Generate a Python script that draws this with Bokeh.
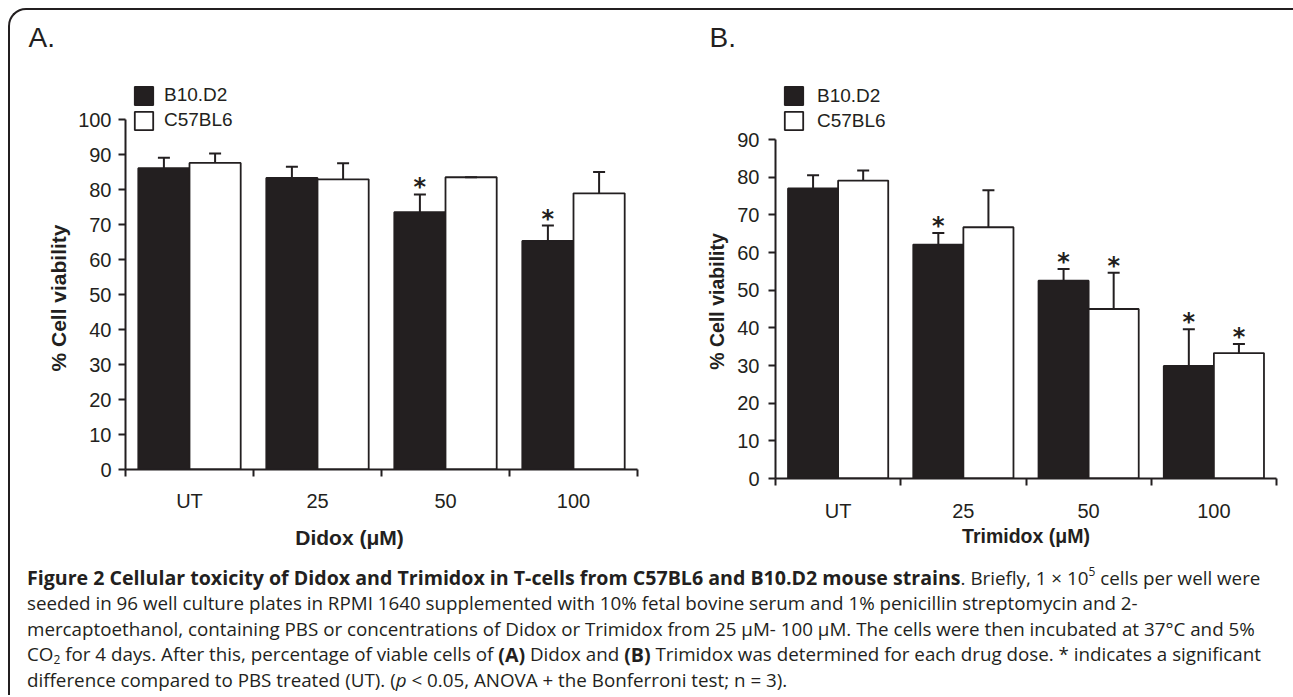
from bokeh.plotting import figure
from bokeh.models import (ColumnDataSource, Range1d, FixedTicker, Legend, LegendItem, LinearAxis,
                          CustomJS, CustomJSTickFormatter, Row, Column)
from bokeh.transform import dodge
from bokeh.core.properties import value, field
from bokeh.document import Document
from bokeh.events import DocumentReady
from bokeh.embed import file_html
from bokeh.resources import INLINE

# ---------------- data ----------------
categories = ["UT", "25", "50", "100"]
series_names = ["B10.D2", "C57BL6"]

didox_b10 = [86.1, 83.3, 73.5, 65.3]
didox_b10_err = [3.0, 3.2, 5.1, 4.4]
didox_b10_sig = [False, False, True, True]
didox_c57 = [87.6, 82.9, 83.5, 78.9]
didox_c57_err = [2.7, 4.6, 0.0, 6.1]
didox_c57_sig = [False, False, False, False]

trimidox_b10 = [77.0, 62.1, 52.5, 29.9]
trimidox_b10_err = [3.5, 3.1, 3.1, 9.7]
trimidox_b10_sig = [False, True, True, True]
trimidox_c57 = [79.1, 66.7, 45.0, 33.3]
trimidox_c57_err = [2.7, 9.8, 9.6, 2.4]
trimidox_c57_sig = [False, False, True, True]

y_ticks_a = list(range(0, 101, 10))
y_ticks_b = list(range(0, 91, 10))

panel_letters = ["A.", "B."]
x_titles = ["Didox (\u03bcM)", "Trimidox (\u03bcM)"]
y_title = "% Cell viability"

caption_lines = [
    [("Figure 2 Cellular toxicity of Didox and Trimidox in T-cells from C57BL6 and B10.D2 mouse strains", "bold", ""),
     (". Briefly, 1 \u00d7 10", "normal", ""), ("5", "normal", "sup"), (" cells per well were", "normal", "")],
    [("seeded in 96 well culture plates in RPMI 1640 supplemented with 10% fetal bovine serum and 1% penicillin streptomycin and 2-", "normal", "")],
    [("mercaptoethanol, containing PBS or concentrations of Didox or Trimidox from 25 \u00b5M- 100 \u00b5M. The cells were then incubated at 37\u00b0C and 5%", "normal", "")],
    [("CO", "normal", ""), ("2", "normal", "sub"), (" for 4 days. After this, percentage of viable cells of ", "normal", ""),
     ("(A)", "bold", ""), (" Didox and ", "normal", ""), ("(B)", "bold", ""),
     (" Trimidox was determined for each drug dose. * indicates a significant", "normal", "")],
    [("difference compared to PBS treated (UT). (", "normal", ""), ("p", "italic", ""),
     (" < 0.05, ANOVA + the Bonferroni test; n = 3).", "normal", "")],
]

DARK = "#231f20"
SANS = "Liberation Sans"


def title_axis(ticks, text, size, standoff, vertical=False):
    ax = LinearAxis(ticker=FixedTicker(ticks=ticks, minor_ticks=[]),
                    formatter=CustomJSTickFormatter(args=dict(t=text), code="return t;"))
    ax.axis_line_color = None
    ax.major_tick_line_color = None
    ax.minor_tick_line_color = None
    ax.major_tick_in = 0
    ax.major_tick_out = 0
    ax.minor_tick_in = 0
    ax.minor_tick_out = 0
    ax.major_label_text_font = SANS
    ax.major_label_text_font_style = "bold"
    ax.major_label_text_font_size = size
    ax.major_label_text_color = DARK
    ax.major_label_standoff = standoff
    if vertical:
        ax.major_label_orientation = "vertical"
    return ax


def make_chart(xtitle, vb, eb, sb, vc, ec, sc, yticks, *, width, height, mbl, mbr, mbb,
               ytop, xtitle_at, ytitle_at, leg_loc, leg_standoff, title_size,
               xlab_standoff, xtitle_standoff, ylab_standoff, ytitle_standoff):
    n = len(categories)
    ymax = yticks[-1]
    p = figure(width=width, height=height, x_range=Range1d(0, n), y_range=Range1d(0, ytop),
               output_backend="svg", toolbar_location=None, tools="",
               min_border_left=mbl, min_border_right=mbr, min_border_top=0, min_border_bottom=mbb)
    p.xgrid.visible = False
    p.ygrid.visible = False
    p.outline_line_color = None
    p.background_fill_color = None
    p.border_fill_color = None

    centers = [i + 0.5 for i in range(n)]
    src = ColumnDataSource(dict(
        xc=centers,
        b=vb, bt=[v + e for v, e in zip(vb, eb)],
        c=vc, ct=[v + e for v, e in zip(vc, ec)],
    ))
    rb = p.vbar(x=dodge("xc", -0.2), top="b", bottom=0, width=0.4, source=src,
                fill_color=DARK, line_color=DARK, line_width=1.8)
    rc = p.vbar(x=dodge("xc", 0.2), top="c", bottom=0, width=0.4, source=src,
                fill_color="white", line_color=DARK, line_width=1.8)
    for off, v, t in [(-0.2, "b", "bt"), (0.2, "c", "ct")]:
        p.segment(x0=dodge("xc", off), y0=v, x1=dodge("xc", off), y1=t, source=src,
                  line_color=DARK, line_width=2)
        p.scatter(x=dodge("xc", off), y=t, marker="dash", size=12, source=src,
                  line_color=DARK, line_width=2)

    sx = [c - 0.2 for c, s in zip(centers, sb) if s] + [c + 0.2 for c, s in zip(centers, sc) if s]
    sy = [v + e for v, e, s in zip(vb, eb, sb) if s] + [v + e for v, e, s in zip(vc, ec, sc) if s]
    p.text(x=sx, y=sy, text=["*"] * len(sx), text_font=value("DejaVu Sans"), text_font_style="bold",
           text_font_size="24px", text_align="center", text_baseline="middle",
           y_offset=-7, text_color=DARK)

    xa = p.xaxis[0]
    xa.ticker = FixedTicker(ticks=centers, minor_ticks=list(range(n + 1)))
    xa.formatter = CustomJSTickFormatter(args=dict(labels=categories),
                                         code="return labels[Math.floor(tick)];")
    xa.major_tick_line_color = None
    xa.major_tick_out = 0
    xa.major_tick_in = 0
    xa.minor_tick_line_color = DARK
    xa.minor_tick_line_width = 2
    xa.minor_tick_out = 7
    xa.minor_tick_in = 0
    xa.axis_line_color = DARK
    xa.axis_line_width = 2
    xa.major_label_text_font = SANS
    xa.major_label_text_font_size = "20px"
    xa.major_label_text_color = DARK
    xa.major_label_standoff = xlab_standoff

    ya = p.yaxis[0]
    ya.bounds = (0, ymax)
    ya.ticker = FixedTicker(ticks=yticks, minor_ticks=[])
    ya.major_tick_line_color = DARK
    ya.major_tick_line_width = 2
    ya.major_tick_out = 7
    ya.major_tick_in = 0
    ya.minor_tick_line_color = None
    ya.axis_line_color = DARK
    ya.axis_line_width = 2
    ya.major_label_text_font = SANS
    ya.major_label_text_font_size = "20px"
    ya.major_label_text_color = DARK
    ya.major_label_standoff = ylab_standoff

    p.add_layout(title_axis([xtitle_at], xtitle, title_size, xtitle_standoff), "below")
    p.add_layout(title_axis([ytitle_at], y_title, title_size, ytitle_standoff, vertical=True), "left")

    leg = Legend(items=[LegendItem(label=series_names[0], renderers=[rb]),
                        LegendItem(label=series_names[1], renderers=[rc])],
                 location=leg_loc, orientation="vertical", glyph_width=23, glyph_height=23,
                 label_standoff=leg_standoff, spacing=2, padding=0, margin=0,
                 border_line_color=None, background_fill_alpha=0,
                 label_text_font=SANS, label_text_font_size="19px", label_text_color=DARK,
                 label_height=23)
    p.add_layout(leg)
    return p


pA = make_chart(x_titles[0], didox_b10, didox_b10_err, didox_b10_sig,
                didox_c57, didox_c57_err, didox_c57_sig, y_ticks_a,
                width=650, height=488, mbl=115, mbr=23, mbb=91,
                ytop=113.43, xtitle_at=1.75, ytitle_at=49, leg_loc=(7, 337.5), leg_standoff=9,
                title_size="21px", xlab_standoff=13, xtitle_standoff=11,
                ylab_standoff=7, ytitle_standoff=5)
pB = make_chart(x_titles[1], trimidox_b10, trimidox_b10_err, trimidox_b10_sig,
                trimidox_c57, trimidox_c57_err, trimidox_c57_sig, y_ticks_b,
                width=633, height=488, mbl=115, mbr=17, mbb=82,
                ytop=107.79, xtitle_at=2.0, ytitle_at=47, leg_loc=(7, 345.7), leg_standoff=12,
                title_size="19.5px", xlab_standoff=14, xtitle_standoff=0,
                ylab_standoff=9, ytitle_standoff=6)

# ---------------- panel letters strip ----------------
STRIP_W, STRIP_H = 1283, 62
strip = figure(width=STRIP_W, height=STRIP_H, x_range=Range1d(0, STRIP_W), y_range=Range1d(STRIP_H, 0),
               output_backend="svg", toolbar_location=None, tools="", min_border=0,
               x_axis_location=None, y_axis_location=None)
strip.grid.visible = False
strip.outline_line_color = None
strip.background_fill_color = None
strip.border_fill_color = None
strip.text(x=[18, 699], y=[27, 27], text=panel_letters, text_font=value(SANS), text_font_size="28px",
           text_color=DARK, text_baseline="middle", text_align="left")

# ---------------- caption ----------------
CAP_W, CAP_H = 1283, 135
CAP_X0 = 16.5
CAP_Y0, CAP_DY = 17, 25.5
SIZES = {"normal": 18.8, "italic": 18.8, "bold": 19.6}
SMALL_SIZE = 12

_w = {}
for chars, w in [("abdgpqhnu", 0.60), ("ceksvxyz", 0.50), ("o", 0.60), ("m", 0.93), ("w", 0.78),
                 ("fr", 0.37), ("t", 0.35), ("ijl", 0.25), ("ABCDGHKNOPQRUVXYZ", 0.66),
                 ("EFLST", 0.55), ("IJ", 0.27), ("MW", 0.90), ("0123456789=+<\u00d7", 0.572),
                 (" ", 0.26), (".,:;", 0.25), ("()", 0.29), ("-", 0.32), ("%", 0.83),
                 ("*", 0.54), ("\u00b0", 0.42), ("\u00b5", 0.62)]:
    for ch in chars:
        _w[ch] = w


def est_width(s, size, style):
    f = 1.06 if "bold" in style else 1.0
    return sum(_w.get(ch, 0.55) for ch in s) * size * f


cx, cy, ct, cst, csz, cln, clead = [], [], [], [], [], [], []
for li, segs in enumerate(caption_lines):
    x = CAP_X0
    ybase = CAP_Y0 + li * CAP_DY
    for text, style, pos in segs:
        size = SMALL_SIZE if pos else SIZES[style]
        dy = -6 if pos == "sup" else (5 if pos == "sub" else 0)
        stripped = text.lstrip(" ")
        lead = len(text) - len(stripped)
        x += est_width(" " * lead, size, style)
        cx.append(x)
        cy.append(ybase + dy)
        ct.append(stripped)
        cst.append(style)
        csz.append(f"{size}px")
        cln.append(li)
        clead.append(lead)
        x += est_width(stripped, size, style)

cap_src = ColumnDataSource(dict(x=cx, y=cy, text=ct, style=cst, size=csz, line=cln, lead=clead))
cap = figure(width=CAP_W, height=CAP_H, x_range=Range1d(0, CAP_W), y_range=Range1d(CAP_H, 0),
             output_backend="svg", toolbar_location=None, tools="", min_border=0,
             x_axis_location=None, y_axis_location=None)
cap.grid.visible = False
cap.outline_line_color = None
cap.background_fill_color = None
cap.border_fill_color = None
cap.text(x="x", y="y", text="text", source=cap_src, text_font=value("Open Sans"),
         text_font_style=field("style"), text_font_size=field("size"),
         text_color=DARK, text_align="left", text_baseline="middle")

charts = Row(children=[Column(children=[pA]), Column(children=[pB])])
layout = Column(children=[strip, charts, cap],
                styles={"margin-left": "8px", "margin-top": "8px",
                        "border-left": f"2px solid {DARK}", "border-top": f"2px solid {DARK}",
                        "border-top-left-radius": "18px"})

doc = Document()
doc.add_root(layout)
doc.js_on_event(DocumentReady, CustomJS(args=dict(src=cap_src, x0=CAP_X0), code="""
const d = src.data;
const get = (k) => (d instanceof Map ? d.get(k) : d[k]);
const texts = get("text"), styles = get("style"), sizes = get("size"), lines = get("line"), leads = get("lead");
const xs = get("x");
const ctx = document.createElement("canvas").getContext("2d");
let cur = null, x = 0;
for (let i = 0; i < texts.length; i++) {
  if (lines[i] !== cur) { cur = lines[i]; x = x0; }
  ctx.font = styles[i] + " " + sizes[i] + " 'Open Sans'";
  x += leads[i] * ctx.measureText(" ").width;
  xs[i] = x;
  x += ctx.measureText(texts[i]).width;
}
src.change.emit();
"""))

open("out.html", "w").write(file_html(layout, INLINE))
